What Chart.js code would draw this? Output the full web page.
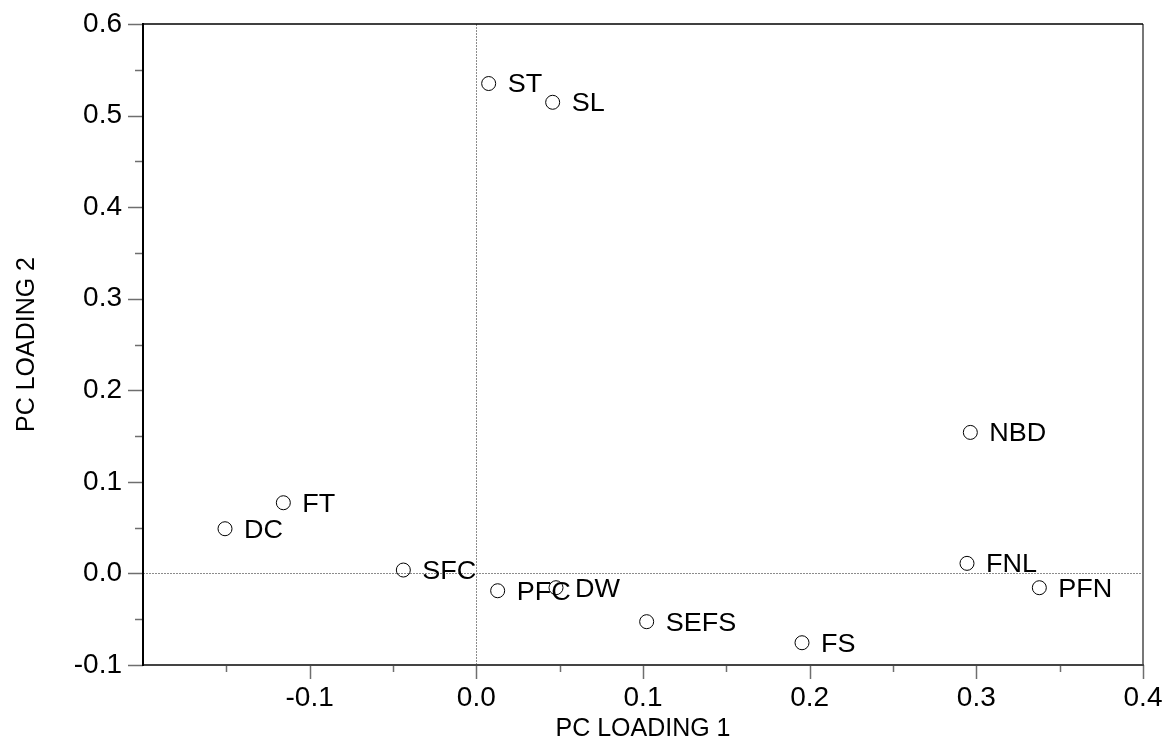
<!DOCTYPE html>
<html>
<head>
<meta charset="utf-8">
<script src="https://cdn.jsdelivr.net/npm/chart.js@4.4.0/dist/chart.umd.min.js"></script>
<style>
  html, body { margin: 0; padding: 0; background: #fff; }
  #wrap { width: 1168px; height: 742px; position: relative; }
</style>
</head>
<body>
<div id="wrap"><canvas id="main-canvas"></canvas></div>
<script>
// data
const names    = ['ST', 'SL', 'NBD', 'FT', 'DC', 'SFC', 'PFC', 'DW', 'SEFS', 'FS', 'FNL', 'PFN'];
const loading1 = [0.0074, 0.0458, 0.2964, -0.1158, -0.1508, -0.0438, 0.0128, 0.0478, 0.1022, 0.1954, 0.2944, 0.3378];
const loading2 = [0.535, 0.5145, 0.154, 0.0772, 0.0488, 0.0037, -0.0189, -0.0156, -0.0527, -0.0757, 0.011, -0.0156];

const xTickLabels = ['-0.1', '0.0', '0.1', '0.2', '0.3', '0.4'];
const yTickLabels = ['-0.1', '0.0', '0.1', '0.2', '0.3', '0.4', '0.5', '0.6'];

const FONT = "'Liberation Sans', Arial, sans-serif";

function labelFor(list, v) {
    v = Math.round(v * 20) / 20;
    if (Math.abs(v) < 1e-9) v = 0;
    const hit = list.find(s => Math.abs(parseFloat(s) - v) < 1e-6);
    return hit === undefined ? '' : hit;
}

// frame, zero lines, tick marks and point names
const plotDecor = {
    id: 'plotDecor',
    beforeDatasetsDraw(chart) {
        const ctx = chart.ctx;
        const a = chart.chartArea;
        const xs = chart.scales.x, ys = chart.scales.y;
        const seg = (x1, y1, x2, y2) => { ctx.beginPath(); ctx.moveTo(x1, y1); ctx.lineTo(x2, y2); ctx.stroke(); };
        ctx.save();

        // dotted zero lines
        ctx.strokeStyle = '#8c8c8c';
        ctx.lineWidth = 1;
        ctx.setLineDash([2, 1]);
        const x0 = Math.round(xs.getPixelForValue(0)) + 0.5;
        const y0 = Math.round(ys.getPixelForValue(0)) + 0.5;
        seg(x0, a.top, x0, a.bottom);
        seg(a.left, y0, a.right, y0);
        ctx.setLineDash([]);

        // tick marks (major where there is a label, minor otherwise)
        ctx.strokeStyle = '#6e6e6e';
        ctx.lineWidth = 1.5;
        xs.ticks.forEach((t, i) => {
            const v = Math.round(t.value * 20) / 20;
            if (v < -0.199) return;
            const px = Math.round(xs.getPixelForTick(i)) + 0.5;
            const len = labelFor(xTickLabels, t.value) ? 14 : 7;
            seg(px, a.bottom, px, a.bottom + len);
        });
        ys.ticks.forEach((t, i) => {
            const py = Math.round(ys.getPixelForTick(i)) + 0.5;
            const len = labelFor(yTickLabels, t.value) ? 15 : 8;
            seg(a.left - len, py, a.left, py);
        });

        // box
        ctx.lineWidth = 2;
        ctx.strokeStyle = '#777';
        seg(a.right, a.top, a.right, a.bottom + 1);
        ctx.strokeStyle = '#444';
        seg(a.left, a.bottom, a.right + 1, a.bottom);
        ctx.strokeStyle = '#000';
        seg(a.left, a.top - 1, a.left, a.bottom + 1);
        ctx.lineWidth = 1.5;
        seg(a.left, a.top, a.right, a.top);
        ctx.restore();
    },
    afterDatasetsDraw(chart) {
        const ctx = chart.ctx;
        const meta = chart.getDatasetMeta(0);
        ctx.save();
        ctx.fillStyle = '#000';
        ctx.font = '25px ' + FONT;
        ctx.textAlign = 'left';
        ctx.textBaseline = 'middle';
        meta.data.forEach((pt, i) => {
            ctx.save();
            ctx.translate(pt.x + 19, pt.y + 2);
            ctx.scale(1.08, 1);
            ctx.fillText(names[i], 0, 0);
            ctx.restore();
        });
        ctx.restore();
    }
};

const points = names.map((n, i) => ({ x: loading1[i], y: loading2[i] }));

const chartCtx = document.getElementById('main-canvas');

new Chart(chartCtx, {
    type: 'scatter',
    data: {
        datasets: [{
            data: points,
            pointStyle: 'circle',
            pointRadius: 7,
            pointHoverRadius: 7,
            pointBackgroundColor: 'rgba(255,255,255,0)',
            pointBorderColor: '#000',
            pointBorderWidth: 1
        }]
    },
    options: {
        responsive: true,
        maintainAspectRatio: false,
        animation: false,
        devicePixelRatio: 1,
        layout: { padding: { top: 24, right: 25, left: 0, bottom: 0 } },
        plugins: {
            legend: { display: false },
            tooltip: { enabled: false }
        },
        scales: {
            x: {
                type: 'linear',
                min: -0.2,
                max: 0.4,
                grid: { display: false, drawTicks: false },
                border: { display: false },
                ticks: {
                    stepSize: 0.05,
                    autoSkip: false,
                    maxRotation: 0,
                    padding: 16,
                    color: '#000',
                    font: { family: FONT, size: 28 },
                    callback: (v) => labelFor(xTickLabels, v)
                },
                title: {
                    display: true,
                    text: 'PC LOADING 1',
                    color: '#000',
                    font: { family: FONT, size: 25, lineHeight: 1 },
                    padding: { top: 0, bottom: 0 }
                },
                afterFit: (scale) => {
                    scale.height = 77;
                    scale.paddingLeft = 0;
                    scale.paddingRight = 0;
                }
            },
            y: {
                type: 'linear',
                min: -0.1,
                max: 0.6,
                grid: { display: false, drawTicks: false },
                border: { display: false },
                ticks: {
                    stepSize: 0.05,
                    autoSkip: false,
                    padding: 21,
                    color: '#000',
                    font: { family: FONT, size: 28 },
                    callback: (v) => labelFor(yTickLabels, v)
                },
                title: {
                    display: true,
                    text: 'PC LOADING 2',
                    color: '#000',
                    font: { family: FONT, size: 25, lineHeight: 1 },
                    padding: { top: 15, bottom: 0 }
                },
                afterFit: (scale) => {
                    scale.width = 143;
                    scale.paddingTop = 0;
                    scale.paddingBottom = 0;
                }
            }
        }
    },
    plugins: [plotDecor]
});
</script>
</body>
</html>
